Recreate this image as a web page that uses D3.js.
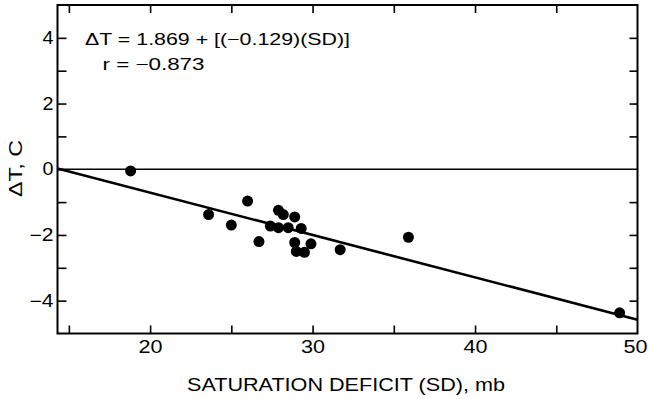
<!DOCTYPE html>
<html>
<head>
<meta charset="utf-8">
<script src="https://cdn.jsdelivr.net/npm/d3@7"></script>
<style>
  html, body { margin: 0; padding: 0; background: #fff; }
  svg { display: block; }
  text { font-family: "Liberation Sans", Arial, Helvetica, sans-serif; fill: #000; }
</style>
</head>
<body>
<svg id="chart" width="648" height="399"></svg>
<script>
// ---- data ----
const sdValues = [18.8, 23.6, 25.0, 26.0, 26.7, 27.4, 27.9, 28.2, 27.9, 28.5, 28.9, 29.3, 28.9, 29.9, 29.0, 29.5, 31.7, 35.9, 48.9];
const dtValues = [-0.05, -1.38, -1.70, -0.97, -2.20, -1.73, -1.25, -1.38, -1.78, -1.78, -1.45, -1.80, -2.23, -2.27, -2.50, -2.53, -2.45, -2.07, -4.37];
const xTickValues = [15, 20, 25, 30, 35, 40, 45, 50];
const xTickLabels = [20, 30, 40, 50];
const yTickValues = [-4, -3, -2, -1, 0, 1, 2, 3, 4];
const yTickLabels = [-4, -2, 0, 2, 4];
const intercept = 1.869;
const slope = -0.129;
const equationText = "ΔT = 1.869 + [(−0.129)(SD)]";
const rText = "r = −0.873";
const xTitle = "SATURATION DEFICIT (SD), mb";
const yTitle = "ΔT, C";

// ---- layout ----
const svg = d3.select("#chart");
const mLeft = 57.5, mRight = 637.5, mTop = 5, mBottom = 333.5;
const xDomain = [14.3, 50];
const x = d3.scaleLinear().domain(xDomain).range([mLeft, mRight]);
const y = d3.scaleLinear().domain([-5, 5]).range([mBottom, mTop]);
const fmt = d3.format("d");

// zero line
svg.append("line")
  .attr("x1", x(xDomain[0])).attr("x2", x(xDomain[1]))
  .attr("y1", y(0)).attr("y2", y(0))
  .attr("stroke", "#000").attr("stroke-width", 1.6);

// regression line
svg.append("line")
  .attr("x1", x(xDomain[0])).attr("y1", y(intercept + slope * xDomain[0]))
  .attr("x2", x(xDomain[1])).attr("y2", y(intercept + slope * xDomain[1]))
  .attr("stroke", "#000").attr("stroke-width", 2.6);

// axes
function styleAxis(g, fontSize) {
  g.select(".domain").remove();
  g.selectAll(".tick line").attr("stroke", "#000").attr("stroke-width", 1.6);
  g.selectAll(".tick text").attr("font-size", fontSize)
    .attr("font-family", "'Liberation Sans', Arial, Helvetica, sans-serif").attr("fill", "#000")
    .each(function () {
      const t = d3.select(this).text();
      if (t.length > 1) d3.select(this).attr("textLength", 24).attr("lengthAdjust", "spacingAndGlyphs");
      else if (t.length === 1) d3.select(this).attr("textLength", 11).attr("lengthAdjust", "spacingAndGlyphs");
    });
}

const gBottom = svg.append("g").attr("transform", `translate(0,${mBottom})`)
  .call(d3.axisBottom(x).tickValues(xTickValues).tickSize(-8).tickPadding(7.5)
    .tickFormat(d => xTickLabels.includes(d) ? fmt(d) : ""));
styleAxis(gBottom, 17.5);
gBottom.selectAll(".tick").filter(d => d === 50).select("line").remove();
gBottom.selectAll(".tick").filter(d => d === 50).select("text")
  .attr("text-anchor", "end").attr("x", 647 - x(50));

const gTop = svg.append("g").attr("transform", `translate(0,${mTop})`)
  .call(d3.axisTop(x).tickValues(xTickValues.filter(d => d < 50)).tickSize(-8).tickFormat(""));
styleAxis(gTop, 17.5);

const gLeft = svg.append("g").attr("transform", `translate(${mLeft},0)`)
  .call(d3.axisLeft(y).tickValues(yTickValues).tickSize(-9).tickPadding(4)
    .tickFormat(d => yTickLabels.includes(d) ? fmt(d) : ""));
styleAxis(gLeft, 17.5);

const gRight = svg.append("g").attr("transform", `translate(${mRight},0)`)
  .call(d3.axisRight(y).tickValues(yTickValues.filter(d => d !== 0)).tickSize(-8).tickFormat(""));
styleAxis(gRight, 17.5);

// frame
svg.append("rect")
  .attr("x", mLeft).attr("y", mTop)
  .attr("width", mRight - mLeft).attr("height", mBottom - mTop)
  .attr("fill", "none").attr("stroke", "#000").attr("stroke-width", 2);

// points
svg.append("g").selectAll("circle")
  .data(sdValues.map((d, i) => [d, dtValues[i]]))
  .join("circle")
  .attr("cx", d => x(d[0])).attr("cy", d => y(d[1]))
  .attr("r", 5.5).attr("fill", "#000");

// equation text
svg.append("text").attr("x", 85).attr("y", 44.5).attr("font-size", 16.5)
  .attr("textLength", 265).attr("lengthAdjust", "spacingAndGlyphs").text(equationText);
svg.append("text").attr("x", 102.5).attr("y", 70).attr("font-size", 16.5)
  .attr("textLength", 102).attr("lengthAdjust", "spacingAndGlyphs").text(rText);

// axis titles
svg.append("text").attr("x", 187).attr("y", 390.5)
  .attr("font-size", 18.5).attr("textLength", 318).attr("lengthAdjust", "spacingAndGlyphs").text(xTitle);
svg.append("text")
  .attr("transform", `translate(21.5,197) rotate(-90)`)
  .attr("font-size", 18.5).attr("textLength", 57).attr("lengthAdjust", "spacingAndGlyphs").text(yTitle);
</script>
</body>
</html>
